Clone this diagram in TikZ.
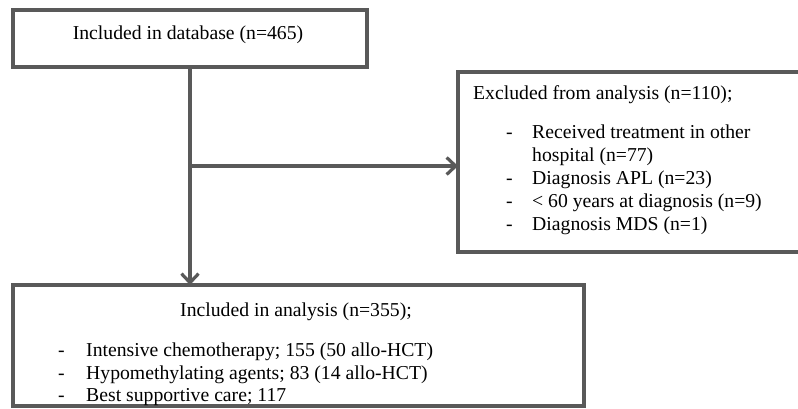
\documentclass[tikz,border=0pt]{standalone}
\usepackage{fontspec}
\setmainfont{Liberation Serif}
\usetikzlibrary{arrows.meta}
\begin{document}
\begin{tikzpicture}[x=1pt,y=-1pt,
  boxline/.style={draw=black!65, line width=3.2pt, inner sep=0pt, outer sep=0pt, rectangle},
  conn/.style={draw=black!65, line width=3.2pt},
  tip/.style={-{Straight Barb[length=9pt,width=17pt]}},
  txt/.style={anchor=base west, inner sep=0pt, font=\fontsize{19.7}{23}\selectfont},
  dashtxt/.style={anchor=base west, inner sep=0pt, font=\fontsize{19.7}{23}\selectfont}]
\useasboundingbox (0,0) rectangle (798,408);
\fill[white] (0,0) rectangle (798,408);
% boxes
\node[boxline, minimum width=354pt, minimum height=57pt] (box1) at (190,38.5) {};
\node[boxline, minimum width=347pt, minimum height=180pt] (box2) at (631.5,162) {};
\node[boxline, minimum width=571pt, minimum height=121pt] (box3) at (298.5,345.5) {};
% texts
\node[txt, anchor=base] (t1) at (188,39) {Included in database (n=465)};
\node[txt] (t2) at (473,99) {Excluded from analysis (n=110);};
\node[dashtxt] (d21) at (506,138) {-};
\node[txt] (t21) at (532,138) {Received treatment in other};
\node[txt] (t21b) at (532,161) {hospital (n=77)};
\node[dashtxt] (d22) at (506,184) {-};
\node[txt] (t22) at (532,184) {Diagnosis APL (n=23)};
\node[dashtxt] (d23) at (506,207) {-};
\node[txt] (t23) at (532,207) {< 60 years at diagnosis (n=9)};
\node[dashtxt] (d24) at (506,230) {-};
\node[txt] (t24) at (532,230) {Diagnosis MDS (n=1)};
\node[txt] (t3) at (180,316) {Included in analysis (n=355);};
\node[dashtxt] (d31) at (58,356) {-};
\node[txt] (t31) at (86,356) {Intensive chemotherapy; 155 (50 allo-HCT)};
\node[dashtxt] (d32) at (58,379) {-};
\node[txt] (t32) at (86,379) {Hypomethylating agents; 83 (14 allo-HCT)};
\node[dashtxt] (d33) at (58,401) {-};
\node[txt] (t33) at (86,401) {Best supportive care; 117};
% connectors
\coordinate (j) at (box1.south |- 0,166);
\draw[conn, tip] (box1.south) -- (box1.south |- box3.north);
\draw[conn, tip] (j) -- (j -| box2.west);
\end{tikzpicture}
\end{document}
